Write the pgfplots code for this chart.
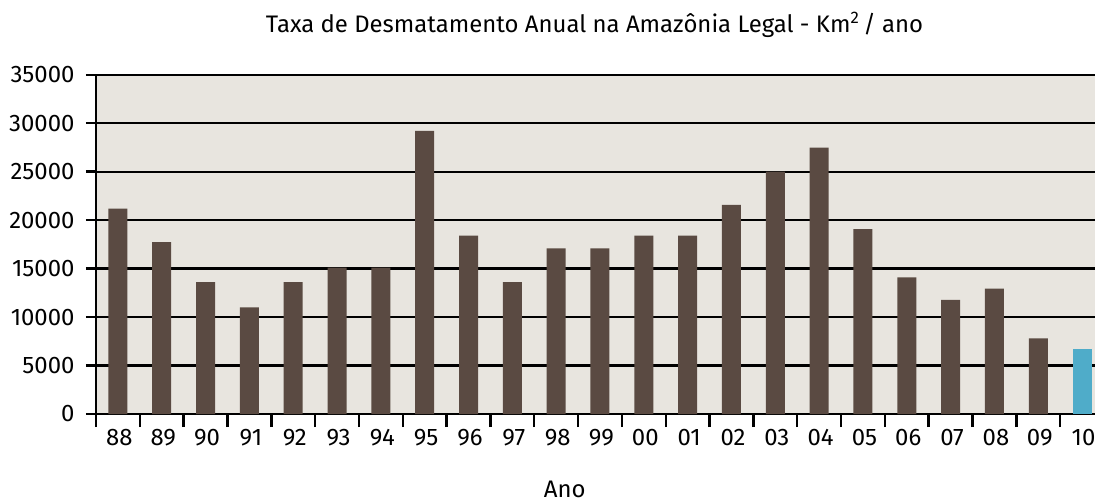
\documentclass[border=0pt]{standalone}
\usepackage{fontspec}
\setmainfont{Fira Sans}
\usepackage{pgfplots}
\pgfplotsset{compat=1.18}

\definecolor{barbrown}{RGB}{90,74,66}
\definecolor{barblue}{RGB}{79,172,201}
\definecolor{bgbeige}{RGB}{232,229,223}

% taxa anual (km2/ano)
\pgfplotstableread{
x y
0 21180
1 17740
2 13600
3 11000
4 13600
5 15100
6 15100
7 29200
8 18400
9 13600
10 17080
11 17080
12 18400
13 18400
14 21580
15 25000
16 27480
17 19080
18 14100
19 11770
20 12940
21 7790
}\anos
\pgfplotstableread{
x y
22 6660
}\atual

\begin{document}
\begin{tikzpicture}
\begin{axis}[
  scale only axis,
  width=1008bp, height=339.3bp,
  xmin=-0.5, xmax=22.5,
  ymin=0, ymax=35000,
  clip=false,
  axis x line*=bottom, axis y line*=left,
  axis background/.style={fill=bgbeige},
  axis line style={line width=2.4bp, black},
  ymajorgrids,
  grid style={line width=2.2bp, black},
  ytick={0,5000,...,35000},
  scaled y ticks=false,
  yticklabel style={/pgf/number format/1000 sep={}, xshift=-8bp},
  xtick={-0.5,0.5,...,22.5},
  x tick label as interval,
  xticklabels={88,89,90,91,92,93,94,95,96,97,98,99,00,01,02,03,04,05,06,07,08,09,10},
  xticklabel style={yshift=-2bp, xshift=1.5bp},
  tick align=outside,
  major tick length=10bp,
  x tick style={/pgfplots/major tick length=13bp},
  tick style={line width=2.4bp, black},
  ticklabel style={font=\fontsize{24}{28}\selectfont},
  /pgf/number format/assume math mode=true,
  ybar, bar width=19bp, bar shift=0pt,
]
\addplot[fill=barbrown, draw=none] table {\anos};
\addplot[fill=barblue, draw=none] table {\atual};
\coordinate (O) at (rel axis cs:0,0);
\node[anchor=base, font=\fontsize{24}{28}\selectfont] at (rel axis cs:0.4945,1) [yshift=42.7bp] {Taxa de Desmatamento Anual na Amazônia Legal - Km\textsuperscript{2}\,/ ano};
\node[anchor=base, inner sep=0pt, font=\fontsize{24}{28}\selectfont] at (rel axis cs:0.465,0) [yshift=-83bp] {Ano};
\end{axis}
\pgfresetboundingbox
\path ([shift={(-96bp,-88bp)}]O) rectangle ([shift={(999bp,414bp)}]O);
\end{tikzpicture}
\end{document}
